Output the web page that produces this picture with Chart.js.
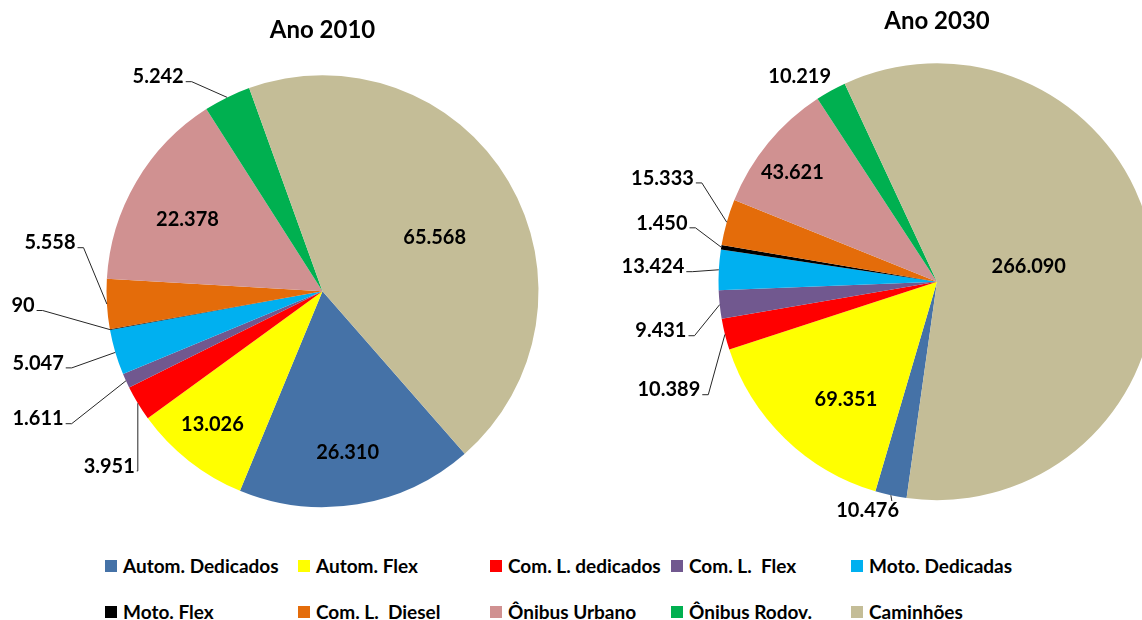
<!DOCTYPE html>
<html>
<head>
<meta charset="utf-8">
<script src="https://cdn.jsdelivr.net/npm/chart.js@4.4.1/dist/chart.umd.min.js"></script>
<style>
  html, body { margin: 0; padding: 0; background: #fff; overflow: hidden; }
  #wrap { position: relative; width: 1142px; height: 620px; overflow: hidden; background: #fff; }
  canvas { position: absolute; top: 0; }
  #c2010 { left: 0; }
  #c2030 { left: 587px; }
  #legend {
    position: absolute; left: 105px; top: 542px;
    display: grid; grid-template-columns: 193px 192px 181px 180px auto;
    grid-auto-rows: 46px;
    font-family: Lato, sans-serif; font-weight: bold; font-size: 19px; color: #000;
  }
  .item { display: flex; align-items: center; white-space: pre; }
  .sw { width: 12px; height: 12px; margin-right: 6px; flex: none; position: relative; top: 1px; }
</style>
</head>
<body>
<div id="wrap">
  <canvas id="c2010" width="645" height="528"></canvas>
  <canvas id="c2030" width="700" height="518"></canvas>
  <div id="legend"></div>
</div>
<script>
// ---- data ----
const categories = ['Autom. Dedicados', 'Autom. Flex', 'Com. L. dedicados', 'Com. L.  Flex', 'Moto. Dedicadas',
                    'Moto. Flex', 'Com. L.  Diesel', 'Ônibus Urbano', 'Ônibus Rodov.', 'Caminhões'];
const values2010 = [26310, 13026, 3951, 1611, 5047, 90, 5558, 22378, 5242, 65568];
const values2030 = [10476, 69351, 10389, 9431, 13424, 1450, 15333, 43621, 10219, 266090];
const titles = ['Ano 2010', 'Ano 2030'];
const colors = ['#4572A7', '#FFFF00', '#FF0000', '#71588F', '#00B0F0',
                '#000000', '#E46C0A', '#D09191', '#00B050', '#C4BD97'];

// ---- label layout (angle offset from slice middle in degrees, radius factor, connector) ----
const labelLayout2010 = [
  [0.5, 0.754, 'none'], [1.4, 0.799, 'none'], [-8.0, 1.275, 'left'], [0.45, 1.442, 'left'], [2.4, 1.357, 'left'],
  [7.6, 1.388, 'left'], [13.6, 1.282, 'left'], [-2.1, 0.710, 'none'], [-11.2, 1.253, 'left'], [4.7, 0.577, 'none']
];
const labelLayout2030 = [
  [4.7, 1.093, 'top'], [-6.2, 0.678, 'none'], [-7.9, 1.322, 'left'], [-3.95, 1.283, 'left'], [0, 1.302, 'left'],
  [3.1, 1.288, 'left'], [5.0, 1.344, 'left'], [-2.2, 0.831, 'none'], [-4.6, 1.134, 'none'], [-1.1, 0.426, 'none']
];

const fmt = v => String(v).replace(/\B(?=(\d{3})+(?!\d))/g, '.');

function makeLabelPlugin(layout) {
  return {
    id: 'valueLabels',
    afterDatasetsDraw(chart) {
      const ctx = chart.ctx;
      const meta = chart.getDatasetMeta(0);
      const data = chart.data.datasets[0].data;
      const size = 20;
      const capH = 0.72 * size;
      ctx.save();
      ctx.font = 'bold ' + size + 'px Lato';
      ctx.fillStyle = '#000';
      ctx.strokeStyle = '#262626';
      ctx.lineWidth = 1;
      ctx.textAlign = 'center';
      ctx.textBaseline = 'alphabetic';
      meta.data.forEach((arc, i) => {
        const mid = (arc.startAngle + arc.endAngle) / 2;
        const [da, k, conn] = layout[i];
        const a = mid + da * Math.PI / 180;
        const R = arc.outerRadius;
        const tx = arc.x + Math.cos(a) * k * R;
        const ty = arc.y + Math.sin(a) * k * R;
        const text = fmt(data[i]);
        const w = ctx.measureText(text).width;
        ctx.fillText(text, tx, ty + capH / 2);
        const ex = arc.x + Math.cos(mid) * R;
        const ey = arc.y + Math.sin(mid) * R;
        if (conn === 'left') {
          const right = tx + w / 2 - 1;
          const ly = ty + 5.5;
          const t0 = right + 3;
          const t1 = Math.max(t0, Math.min(right + 9, ex));
          ctx.beginPath();
          ctx.moveTo(t0, ly);
          ctx.lineTo(t1, ly);
          ctx.lineTo(ex, ey);
          ctx.stroke();
        } else if (conn === 'top') {
          const top = ty - capH / 2 - 2;
          ctx.beginPath();
          ctx.moveTo(ex, ey);
          ctx.lineTo(ex + 1, top);
          ctx.stroke();
        }
      });
      ctx.restore();
    }
  };
}

Chart.defaults.font.family = 'Lato';

function makePie(canvasId, title, values, rotation, radius, titlePadTop, layout) {
  return new Chart(document.getElementById(canvasId), {
    type: 'pie',
    data: {
      labels: categories,
      datasets: [{ data: values, backgroundColor: colors, borderWidth: 0, hoverOffset: 0 }]
    },
    options: {
      responsive: false,
      maintainAspectRatio: false,
      animation: false,
      events: [],
      rotation: rotation,
      radius: radius,
      layout: { padding: 0 },
      plugins: {
        legend: { display: false },
        tooltip: { enabled: false },
        title: {
          display: true, text: title, color: '#000',
          font: { family: 'Lato', size: 24, weight: 'bold' },
          padding: { top: titlePadTop, bottom: 10 }
        }
      }
    },
    plugins: [makeLabelPlugin(layout)]
  });
}

makePie('c2010', titles[0], values2010, 138.8, 216, 15.6, labelLayout2010);
makePie('c2030', titles[1], values2030, 188, 218.5, 6.6, labelLayout2030);

// ---- legend ----
const legend = document.getElementById('legend');
categories.forEach((name, i) => {
  const it = document.createElement('div');
  it.className = 'item';
  const sw = document.createElement('span');
  sw.className = 'sw';
  sw.style.background = colors[i];
  const tx = document.createElement('span');
  tx.textContent = name;
  it.appendChild(sw);
  it.appendChild(tx);
  legend.appendChild(it);
});
</script>
</body>
</html>
